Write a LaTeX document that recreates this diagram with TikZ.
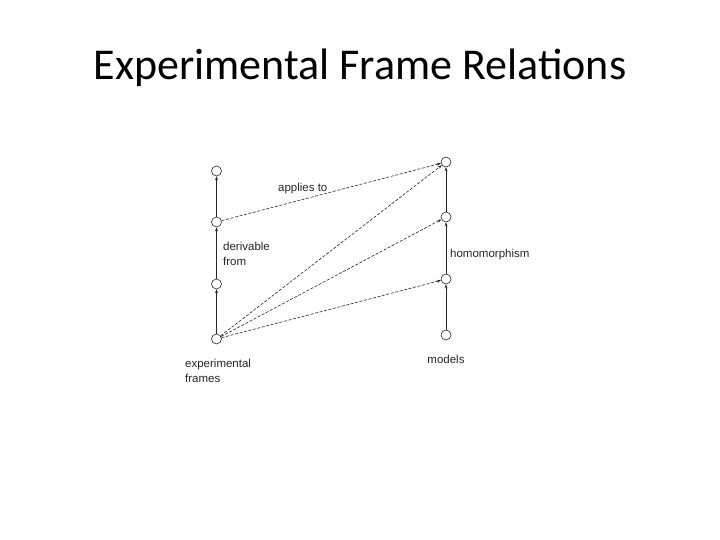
\documentclass[tikz,border=0pt]{standalone}
\usepackage{fontspec}
\setmainfont{Carlito}
\newfontfamily\lblfont{Liberation Sans}
\usetikzlibrary{arrows.meta, positioning}

\begin{document}
\begin{tikzpicture}[
  x=1pt, y=-1pt,
  >={Stealth[length=4pt, width=3pt]},
  state/.style={draw=black!85, circle, line width=0.6pt, minimum size=10pt, inner sep=0pt},
  lbl/.style={font=\lblfont\fontsize{11.5}{15}\selectfont, text=black!85, inner sep=1pt},
  uparrow/.style={->, line width=0.7pt, black!85},
  relarrow/.style={->, line width=0.6pt, black!85, dash pattern=on 3pt off 1.6pt}
]
  \useasboundingbox (0,0) rectangle (720,540);

  % Title
  \node (title) at (360,68) {\fontsize{44}{52}\selectfont Experimental Frame Relations};

  % Experimental frames column
  \node[state] (f1) at (216.5,339) {};
  \node[state] (f2) at (216.5,284) {};
  \node[state] (f3) at (216.5,222) {};
  \node[state] (f4) at (216.5,171) {};

  % Models column
  \node[state] (m1) at (446,335) {};
  \node[state] (m2) at (446,279) {};
  \node[state] (m3) at (446,217) {};
  \node[state] (m4) at (446,162) {};

  % Vertical arrows
  \draw[uparrow] (f1) -- (f2);
  \draw[uparrow] (f2) -- (f3);
  \draw[uparrow] (f3) -- (f4);
  \draw[uparrow] (m1) -- (m2);
  \draw[uparrow] (m2) -- (m3);
  \draw[uparrow] (m3) -- (m4);

  % Relations between frames and models
  \draw[relarrow] (f3) -- (m4) node[pos=0.37, above=4pt, lbl] (applies) {applies to};
  \draw[relarrow] (f1) -- (m4);
  \draw[relarrow] (f1) -- (m3);
  \draw[relarrow] (f1) -- (m2);

  % Labels
  \node[lbl, anchor=west, align=left] (derivable) at (222,254) {derivable\\ from};
  \node[lbl, anchor=west] (homo) at (449,255) {homomorphism};
  \node[lbl, anchor=north west, align=left] (frames) at (184,358) {experimental\\frames};
  \node[lbl, below=14pt of m1] (models) {models};
\end{tikzpicture}
\end{document}
